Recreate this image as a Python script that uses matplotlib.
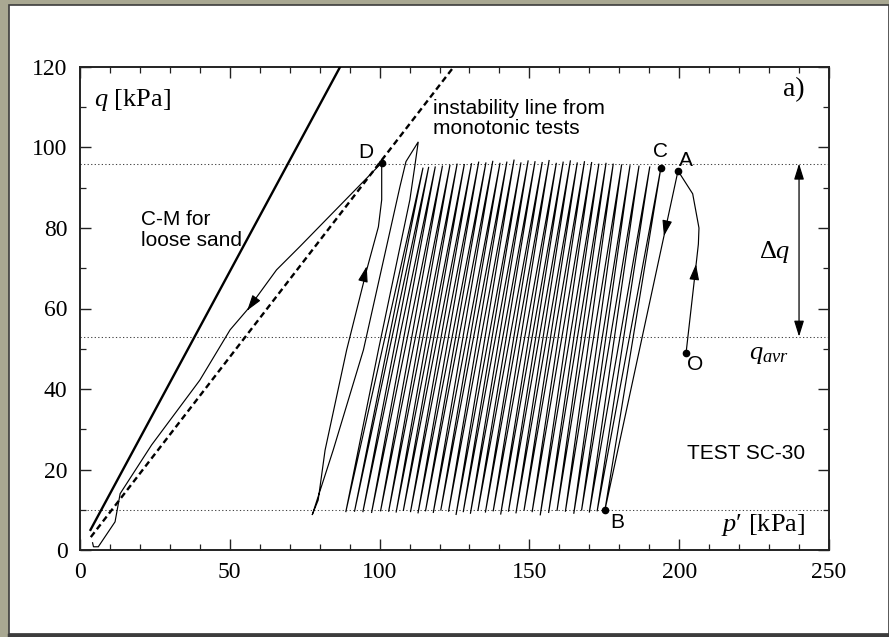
import matplotlib
matplotlib.use("Agg")
import matplotlib.pyplot as plt
from matplotlib.patches import Rectangle
from matplotlib.lines import Line2D
from matplotlib.ticker import MultipleLocator

plt.rcParams['font.family'] = ['Liberation Serif', 'DejaVu Serif']
plt.rcParams['mathtext.fontset'] = 'custom'
plt.rcParams['mathtext.rm'] = 'Liberation Serif'
plt.rcParams['mathtext.it'] = 'Liberation Serif:italic'

# --- reference lines -------------------------------------------------------
cm_p = [3.5, 86.8]            # critical state line (C-M), loose sand
cm_q = [5.0, 120.0]
instab_p = [3.6, 124.7]       # instability line from monotonic tests
instab_q = [3.2, 120.0]

q_levels = [96.0, 53.0, 10.0]  # q_max, q_avr, q_min

# --- initial loading O -> A and first unloading A -> B ----------------------
oa_p = [202.3, 205.5, 206.4, 206.6, 204.5, 199.6]
oa_q = [49.0, 70.0, 76.0, 80.0, 88.5, 94.2]
ab_p = [199.6, 175.2]
ab_q = [94.2, 9.9]

# --- cyclic loading: successive peaks (C first) and troughs (B first) -------
top_p = [193.9, 190.2, 186.6, 183.6, 180.8, 178.0, 175.6, 173.2, 170.8, 168.4,
         166.0, 163.7, 161.3, 159.0, 156.6, 154.3, 151.9, 149.6, 147.2, 144.9,
         142.5, 140.2, 137.8, 135.5, 133.1, 130.7, 128.3, 125.9, 123.5, 121.0,
         118.6, 116.4, 114.5]
top_q = [95.0, 95.3, 95.5, 95.6, 95.8, 96.0, 96.2, 96.0, 96.4, 96.6,
         96.3, 96.8, 96.5, 96.2, 96.9, 96.4, 96.6, 96.8, 96.3, 97.0,
         96.5, 96.2, 96.7, 96.3, 96.5, 96.1, 95.9, 96.0, 95.7, 95.5,
         95.3, 95.2, 95.0]
bot_p = [175.2, 172.6, 170.0, 167.4, 164.8, 162.0, 159.2, 156.4, 153.6, 150.9,
         148.2, 145.5, 143.0, 140.4, 137.9, 135.3, 132.8, 130.3, 127.9, 125.5,
         123.0, 120.4, 117.9, 115.3, 112.8, 110.3, 107.9, 105.5, 103.0, 100.3,
         97.3, 94.4, 91.6, 88.7]
bot_q = [9.9, 9.6, 9.3, 9.8, 9.0, 9.5, 9.7, 9.2, 8.6, 9.4,
         9.8, 9.1, 9.5, 8.8, 9.6, 9.3, 9.7, 9.0, 9.4, 8.7,
         9.5, 9.8, 9.2, 9.6, 9.1, 9.4, 9.7, 9.3, 9.5, 9.6,
         9.2, 9.4, 9.5, 9.4]

# --- final cycles: overshoot, reload to D, collapse along instability line --
over_p = [99.6, 110.1, 111.8, 112.9, 108.8, 106.8, 94.6, 84.5, 77.5]
over_q = [49.7, 87.0, 95.6, 101.4, 96.5, 90.3, 49.7, 24.8, 8.7]
reload_p = [79.5, 81.8, 89.0, 95.7, 99.6, 100.7, 100.7]
reload_q = [12.4, 24.8, 49.7, 69.6, 80.3, 87.0, 96.2]
collapse_p = [73.4, 65.6, 56.2, 50.1, 40.0, 23.9, 13.4, 11.7, 6.1, 4.5, 4.2]
collapse_q = [75.4, 69.6, 60.0, 54.7, 42.2, 26.1, 14.0, 7.0, 0.8, 0.8, 1.8]

# labelled points
pt_names = ['O', 'A', 'B', 'C', 'D']
pt_p = [202.3, 199.6, 175.2, 193.9, 100.7]
pt_q = [49.0, 94.2, 9.9, 95.0, 96.2]
pt_lab_p = [205.3, 202.3, 179.2, 193.6, 95.4]
pt_lab_q = [46.0, 96.7, 6.8, 99.1, 98.8]

# ---------------------------------------------------------------------------
fig = plt.figure(figsize=(8.89, 6.37), dpi=100)
fig.patch.set_facecolor('#a9a892')
W, H = 889.0, 637.0
fig.patches.append(Rectangle((9 / W, 3 / H), (W - 9) / W, (H - 3 - 5) / H,
                             transform=fig.transFigure, facecolor='white',
                             edgecolor='#3c3c3c', linewidth=1.2, zorder=-10))
fig.lines.append(Line2D([9 / W, 1.0], [2 / H, 2 / H], transform=fig.transFigure,
                        color='#3c3c3c', linewidth=2.5, zorder=-9))

ax = fig.add_axes([80 / W, 1 - 550 / H, 749 / W, 483 / H])
ax.set_zorder(5)
ax.set_xlim(0, 250)
ax.set_ylim(0, 120)

for q in q_levels:
    ax.axhline(q, color='#444444', lw=0.75, ls=(0, (1.2, 2.2)), zorder=1)

ax.plot(cm_p, cm_q, color='black', lw=1.7, zorder=3)
ax.plot(instab_p, instab_q, color='black', lw=1.7, ls=(0, (2.6, 1.6)), zorder=3)

# stress path
path_p = list(oa_p) + list(ab_p[1:])
path_q = list(oa_q) + list(ab_q[1:])
for i in range(len(top_p)):
    path_p += [top_p[i], bot_p[i + 1]]
    path_q += [top_q[i], bot_q[i + 1]]
path_p += over_p + reload_p + collapse_p
path_q += over_q + reload_q + collapse_q
ax.plot(path_p, path_q, color='black', lw=0.85, zorder=4, solid_joinstyle='miter')

ax.plot(pt_p, pt_q, 'o', color='black', ms=4.5, zorder=5)
sans = ['Liberation Sans', 'DejaVu Sans']
for n, x, y in zip(pt_names, pt_lab_p, pt_lab_q):
    ax.text(x, y, n, family=sans, fontsize=15, ha='center', va='center')


def head(x, y, dx, dy):
    ax.annotate('', xy=(x, y), xytext=(x - 0.04 * dx, y - 0.04 * dy),
                arrowprops=dict(arrowstyle='-|>,head_length=0.8,head_width=0.25',
                                color='black', lw=0.8, mutation_scale=12,
                                shrinkA=0, shrinkB=0), zorder=6)


head(205.6, 71.0, 3.2, 21.0)
head(194.9, 78.0, -24.4, -84.3)
head(95.7, 70.5, 6.7, 19.9)
head(55.8, 59.5, -9.4, -9.6)

# amplitude arrow
ax.annotate('', xy=(240, q_levels[0]), xytext=(240, q_levels[1]),
            arrowprops=dict(arrowstyle='<|-|>,head_length=0.8,head_width=0.25',
                            color='black', lw=0.9, mutation_scale=12,
                            shrinkA=0, shrinkB=0))
ax.text(231.8, 74.0, r'$\Delta q$', fontsize=19, ha='center', va='center')
ax.text(229.8, 48.4, r'$q_{avr}$', fontsize=19, ha='center', va='center')

ax.text(4.6, 111.8, r'$q$ [kPa]', fontsize=19, ha='left', va='center')
ax.text(242.0, 6.1, r"$p$′ [kPa]", fontsize=19, ha='right', va='center')
ax.text(242.0, 114.3, 'a)', fontsize=20, ha='right', va='center')

ax.text(117.8, 107.2, 'instability line from\nmonotonic tests', family=sans,
        fontsize=15, ha='left', va='center', linespacing=1.05)
ax.text(20.4, 79.5, 'C-M for\nloose sand', family=sans, fontsize=15,
        ha='left', va='center', linespacing=1.1)
ax.text(202.6, 24.0, 'TEST SC-30', family=sans, fontsize=15,
        ha='left', va='center')

ax.xaxis.set_major_locator(MultipleLocator(50))
ax.xaxis.set_minor_locator(MultipleLocator(10))
ax.yaxis.set_major_locator(MultipleLocator(20))
ax.yaxis.set_minor_locator(MultipleLocator(10))
ax.tick_params(which='both', direction='in', top=True, right=True, color='#222222')
ax.tick_params(which='major', length=8, width=1.0, labelsize=17, pad=9)
ax.tick_params(which='minor', length=4.5, width=0.9)
for s in ax.spines.values():
    s.set_linewidth(1.4)
    s.set_color('#222222')

fig.savefig('out.png', dpi=100, facecolor=fig.get_facecolor())
